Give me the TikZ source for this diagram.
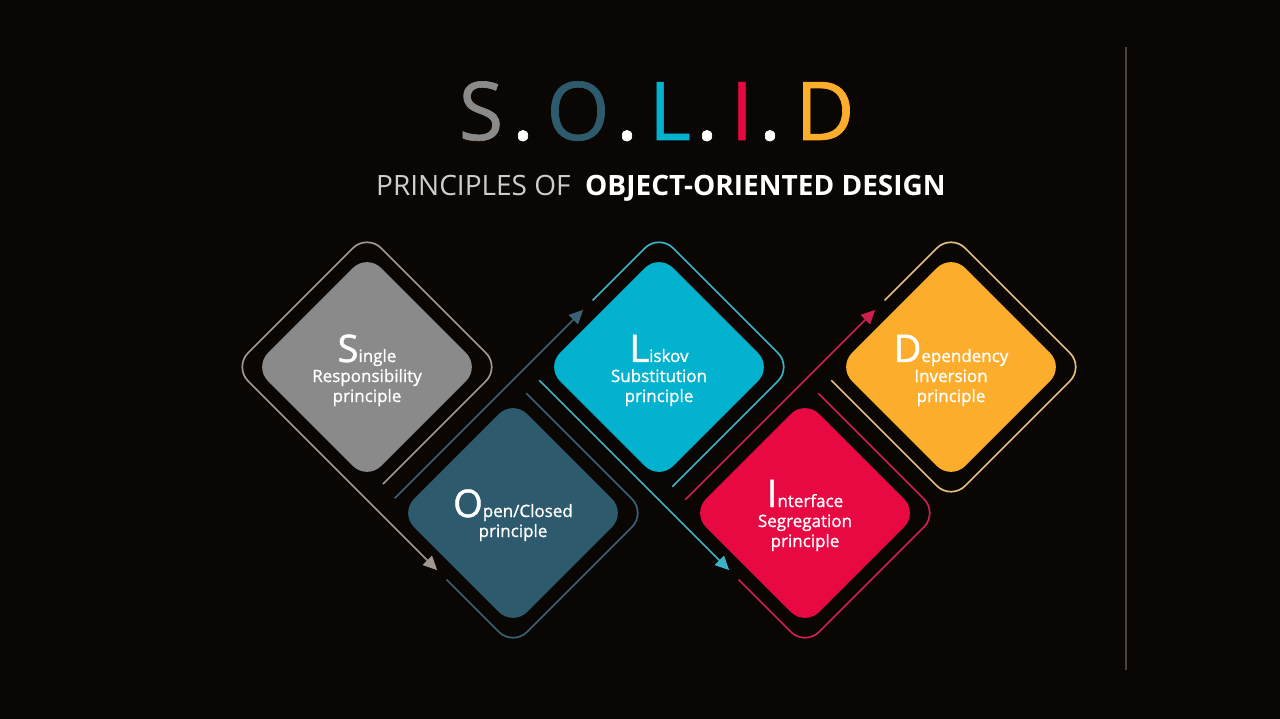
\documentclass[tikz,border=0pt]{standalone}
\usepackage{fontspec}
\setmainfont{Open Sans}
\newfontfamily\semifont[FakeBold=1.2]{Open Sans}
\newfontfamily\titlefont[FakeBold=0.8]{Open Sans}
\usetikzlibrary{calc,arrows.meta}
\definecolor{bg}{RGB}{10,6,4}
\definecolor{cS}{RGB}{138,138,138}
\definecolor{cO}{RGB}{46,90,110}
\definecolor{cL}{RGB}{2,178,207}
\definecolor{cI}{RGB}{232,9,67}
\definecolor{cD}{RGB}{252,173,44}
\definecolor{rS}{RGB}{160,152,145}
\definecolor{rO}{RGB}{58,98,118}
\definecolor{rL}{RGB}{60,178,200}
\definecolor{rI}{RGB}{205,32,78}
\definecolor{rD}{RGB}{228,188,128}
\definecolor{sublight}{RGB}{205,205,205}
\definecolor{vline}{RGB}{72,66,60}
\newcommand\initial[1]{{\fontsize{38}{38}\selectfont #1}}
\newcommand\ringpts[3]{%
  \coordinate (#1-L) at (#2-133,#3);
  \coordinate (#1-T) at (#2,#3-133);
  \coordinate (#1-R) at (#2+133,#3);
  \coordinate (#1-B) at (#2,#3+133);}
\tikzset{
  tile/.style={rectangle, rotate=45, minimum width=160pt, minimum height=160pt,
    rounded corners=20pt, inner sep=0pt, draw=none},
  txt/.style={align=center, text=white, inner sep=0pt, anchor=base,
    font=\semifont\fontsize{17}{20}\selectfont},
  ring/.style={line width=1.7pt, rounded corners=20pt},
  tip/.style={-{Triangle[length=14pt,width=13pt]}},
  ttl/.style={anchor=base, inner sep=0pt, font=\titlefont\fontsize{81}{81}\selectfont}
}
\begin{document}
\begin{tikzpicture}[x=1pt,y=-1pt]
\useasboundingbox (0,0) rectangle (1280,719);
\fill[bg] (0,0) rectangle (1280,719);

% title
\node[ttl, text=cS] (tS) at (481,140) {S};
\node[ttl, text=white] (d1) at (523,140) {.};
\node[ttl, text=cO] (tO) at (578,140) {O};
\node[ttl, text=white] (d2) at (627,140) {.};
\node[ttl, text=cL] (tL) at (670,140) {L};
\node[ttl, text=white] (d3) at (707,140) {.};
\node[ttl, text=cI] (tI) at (742,140) {I};
\node[ttl, text=white] (d4) at (770,140) {.};
\node[ttl, text=cD] (tD) at (825,140) {D};

\node[anchor=base west, inner sep=0pt, text=sublight, font=\fontsize{28}{28}\selectfont] (sub1) at (376,196) {PRINCIPLES OF};
\node[anchor=base west, inner sep=0pt, text=white, font=\fontsize{28}{28}\selectfont\bfseries] (sub2) at (585,196) {OBJECT-ORIENTED DESIGN};

% tiles
\node[tile, fill=cS] (S) at (367,367) {};
\node[tile, fill=cO] (O) at (513,513) {};
\node[tile, fill=cL] (L) at (659,367) {};
\node[tile, fill=cI] (I) at (805,513) {};
\node[tile, fill=cD] (D) at (951,367) {};

\ringpts{S}{367}{367}
\ringpts{O}{513}{513}
\ringpts{L}{659}{367}
\ringpts{I}{805}{513}
\ringpts{D}{951}{367}

% rings and arrows
\draw[ring, rS, tip] ($(S-B)!0.12!(S-R)$) -- (S-R) -- (S-T) -- (S-L) -- ($(O-L)!0.43!(O-B)$);
\draw[ring, rO] ($(O-L)!0.5!(O-B)$) -- (O-B) -- (O-R) -- ($(O-T)!0.1!(O-R)$);
\draw[ring, rO, tip] ($(O-L)!0.11!(O-T)$) -- ($(L-L)!0.43!(L-T)$);
\draw[ring, rL] ($(L-L)!0.5!(L-T)$) -- (L-T) -- (L-R) -- ($(L-B)!0.1!(L-R)$);
\draw[ring, rL, tip] ($(L-L)!0.1!(L-B)$) -- ($(I-L)!0.43!(I-B)$);
\draw[ring, rI] ($(I-L)!0.5!(I-B)$) -- (I-B) -- (I-R) -- ($(I-T)!0.1!(I-R)$);
\draw[ring, rI, tip] ($(I-L)!0.1!(I-T)$) -- ($(D-L)!0.43!(D-T)$);
\draw[ring, rD] ($(D-L)!0.5!(D-T)$) -- (D-T) -- (D-R) -- (D-B) -- ($(D-L)!0.1!(D-B)$);

% texts
\node[txt] (S-t) at (367,402) {\initial{S}ingle\\Responsibility\\principle};
\node[txt] (O-t) at (513,537) {\initial{O}pen/Closed\\principle};
\node[txt] (L-t) at (659,402) {\initial{L}iskov\\Substitution\\principle};
\node[txt] (I-t) at (805,547) {\initial{I}nterface\\Segregation\\principle};
\node[txt] (D-t) at (951,402) {\initial{D}ependency\\Inversion\\principle};

% vertical rule
\coordinate (v1) at (1126,47);
\coordinate (v2) at (1126,670);
\draw[vline, line width=1.4pt] (v1) -- (v2);
\end{tikzpicture}
\end{document}
